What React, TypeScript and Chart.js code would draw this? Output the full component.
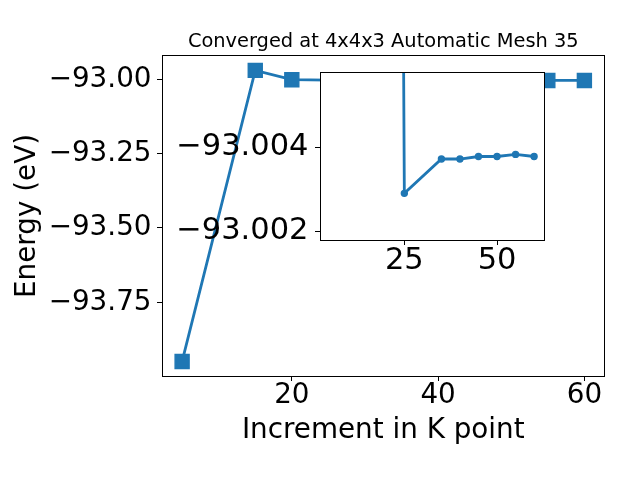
import React, { useEffect, useRef } from 'react';
import { Chart, registerables } from 'chart.js';

Chart.register(...registerables);

// ---- main series ----
const kPoints = [5, 15, 20, 25, 35, 40, 45, 50, 55, 60];
const energies = [-93.949, -92.970, -93.0013, -93.0029, -93.0037, -93.0037, -93.0038, -93.0038, -93.0038, -93.0038];

// ---- inset series (zoomed view; first point lies far off the inset's range) ----
const insetKPoints = [20, 25, 35, 40, 45, 50, 55, 60];
const insetEnergies = [-93.08, -93.0029, -93.00372, -93.00372, -93.00378, -93.00378, -93.00383, -93.00378];

// ---- ticks ----
const mainXTicks = [20, 40, 60];
const mainYTicks = [-93.0, -93.25, -93.5, -93.75];
const insetXTicks = [25, 50];
const insetYTicks = [-93.004, -93.002];

const TITLE = 'Converged at 4x4x3 Automatic Mesh 35';
const X_LABEL = 'Increment in K point';
const Y_LABEL = 'Energy (eV)';

const COLOR = '#1f77b4';
const FONT = 'DejaVu Sans';
const W = 640;
const H = 480;

const fmt = (d: number) => (v: any) => (Number(v) < 0 ? '\u2212' : '') + Math.abs(Number(v)).toFixed(d);

const framePlugin = {
  id: 'frame',
  beforeDraw(chart: any, _args: any, opts: any) {
    if (opts && opts.fill) {
      const { left, top, right, bottom } = chart.chartArea;
      const ctx = chart.ctx;
      ctx.save();
      ctx.fillStyle = '#ffffff';
      ctx.fillRect(left, top, right - left, bottom - top);
      ctx.restore();
    }
  },
  afterDraw(chart: any) {
    const { left, top, right, bottom } = chart.chartArea;
    const ctx = chart.ctx;
    const l = Math.floor(left) + 0.5;
    const t = Math.floor(top) + 0.5;
    const r = Math.floor(right) + 0.5;
    const b = Math.floor(bottom) + 0.5;
    ctx.save();
    ctx.strokeStyle = '#000000';
    ctx.lineWidth = 1;
    ctx.strokeRect(l, t, r - l, b - t);
    ctx.restore();
  },
};

const gridOpts = { drawOnChartArea: false, drawTicks: true, tickLength: 5, color: '#000000', lineWidth: 1 };

export default function App() {
  const mainRef = useRef<HTMLCanvasElement>(null);
  const insetRef = useRef<HTMLCanvasElement>(null);

  useEffect(() => {
    const main = new Chart(mainRef.current as HTMLCanvasElement, {
      type: 'line',
      data: {
        datasets: [
          {
            data: kPoints.map((k, i) => ({ x: k, y: energies[i] })),
            borderColor: COLOR,
            backgroundColor: COLOR,
            borderWidth: 2.8,
            pointStyle: 'rect',
            pointRadius: 9.9,
            pointBorderWidth: 1.4,
            pointBackgroundColor: COLOR,
            pointBorderColor: COLOR,
            tension: 0,
          },
        ],
      },
      options: {
        responsive: false,
        animation: false,
        events: [],
        layout: { padding: { left: 0, top: 0, right: 35.5, bottom: 0 } },
        plugins: {
          legend: { display: false },
          tooltip: { enabled: false },
          title: {
            display: true,
            text: TITLE,
            fullSize: false,
            color: '#000000',
            font: { family: FONT, size: 19.4, weight: 'normal' },
            padding: { top: 29.9, bottom: 2.8 },
          },
          frame: { fill: false },
        } as any,
        scales: {
          x: {
            type: 'linear',
            min: 2.25,
            max: 62.75,
            afterFit: (s: any) => { s.height = 104; },
            afterBuildTicks: (s: any) => { s.ticks = mainXTicks.map((v) => ({ value: v })); },
            ticks: {
              font: { family: FONT, size: 27.8 },
              color: '#000000',
              padding: -1.6,
              maxRotation: 0,
              autoSkip: false,
              callback: (v: any) => String(v),
            },
            grid: gridOpts,
            border: { display: false },
            title: {
              display: true,
              text: X_LABEL,
              color: '#000000',
              font: { family: FONT, size: 27.8 },
              padding: { top: 0, bottom: 32.9 },
            },
          },
          y: {
            type: 'linear',
            min: -93.998,
            max: -92.9215,
            afterFit: (s: any) => { s.width = 162; },
            afterBuildTicks: (s: any) => { s.ticks = mainYTicks.map((v) => ({ value: v })); },
            ticks: {
              font: { family: FONT, size: 27.8 },
              color: '#000000',
              padding: 5.5,
              autoSkip: false,
              callback: fmt(2),
            },
            grid: gridOpts,
            border: { display: false },
            title: {
              display: true,
              text: Y_LABEL,
              color: '#000000',
              font: { family: FONT, size: 27.8 },
              padding: { top: 11.4, bottom: 0 },
            },
          },
        },
      } as any,
      plugins: [framePlugin],
    });

    const inset = new Chart(insetRef.current as HTMLCanvasElement, {
      type: 'line',
      data: {
        datasets: [
          {
            data: insetKPoints.map((k, i) => ({ x: k, y: insetEnergies[i] })),
            borderColor: COLOR,
            backgroundColor: COLOR,
            borderWidth: 2.8,
            pointStyle: 'circle',
            pointRadius: 3,
            pointBorderWidth: 1.4,
            pointBackgroundColor: COLOR,
            pointBorderColor: COLOR,
            tension: 0,
          },
        ],
      },
      options: {
        responsive: false,
        animation: false,
        events: [],
        layout: { padding: { left: 0, top: 72.3, right: 95.7, bottom: 0 } },
        plugins: {
          legend: { display: false },
          tooltip: { enabled: false },
          title: { display: false },
          frame: { fill: true },
        } as any,
        scales: {
          x: {
            type: 'linear',
            min: 2.25,
            max: 62.75,
            afterFit: (s: any) => { s.height = 240; },
            afterBuildTicks: (s: any) => { s.ticks = insetXTicks.map((v) => ({ value: v })); },
            ticks: {
              font: { family: FONT, size: 30.5 },
              color: '#000000',
              padding: -2.2,
              maxRotation: 0,
              autoSkip: false,
              callback: (v: any) => String(v),
            },
            grid: gridOpts,
            border: { display: false },
          },
          y: {
            type: 'linear',
            reverse: true,
            min: -93.005792,
            max: -93.001785,
            afterFit: (s: any) => { s.width = 320; },
            afterBuildTicks: (s: any) => { s.ticks = insetYTicks.map((v) => ({ value: v })); },
            ticks: {
              font: { family: FONT, size: 30.5 },
              color: '#000000',
              padding: 6.5,
              autoSkip: false,
              callback: fmt(3),
            },
            grid: gridOpts,
            border: { display: false },
          },
        },
      } as any,
      plugins: [framePlugin],
    });

    return () => {
      main.destroy();
      inset.destroy();
    };
  }, []);

  return (
    <div style={{ position: 'fixed', left: 0, top: 0, width: W, height: H, background: '#ffffff' }}>
      <canvas ref={mainRef} width={W} height={H} style={{ position: 'absolute', left: 0, top: 0 }} />
      <canvas ref={insetRef} width={W} height={H} style={{ position: 'absolute', left: 0, top: 0 }} />
    </div>
  );
}
